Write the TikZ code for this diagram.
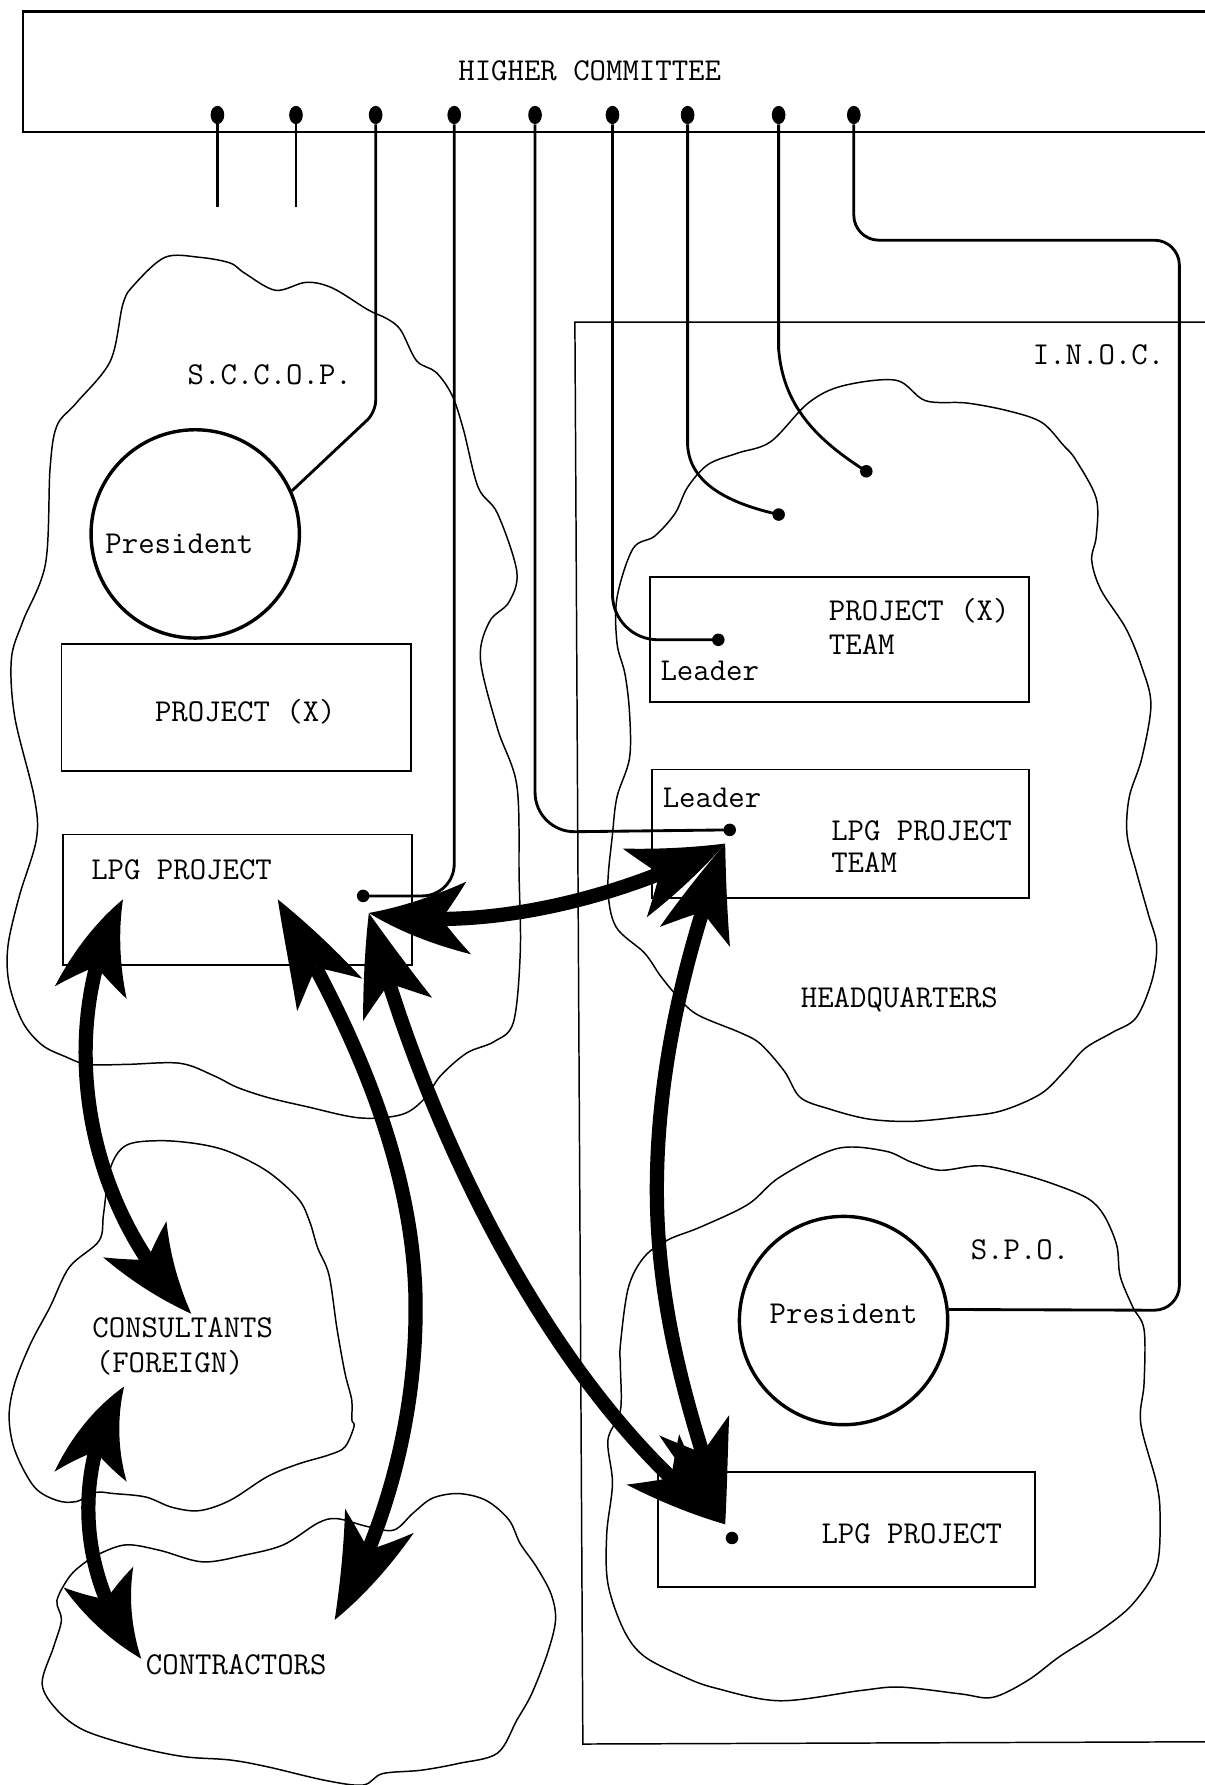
\documentclass[tikz,border=0pt]{standalone}
\usepackage{fontspec}
\usetikzlibrary{arrows.meta,bending,shapes.geometric}
\begin{document}
\begin{tikzpicture}[x=1pt,y=-1pt,
  txt/.style={font=\ttfamily\fontsize{28}{31}\selectfont, inner sep=0pt, anchor=base},
  txtl/.style={txt, anchor=base west},
  cloudline/.style={draw, line width=1.3pt, line join=round},
  conn/.style={line width=2.5pt},
  frame/.style={line width=1.3pt},
  boxst/.style={draw, line width=1.6pt, inner sep=0pt, rectangle},
  pres/.style={draw, circle, line width=3pt, inner sep=0pt, minimum size=183pt},
  dotst/.style={circle, fill, inner sep=0pt, minimum size=11pt},
  cdot/.style={ellipse, fill, inner sep=0pt, minimum width=12pt, minimum height=16pt},
  bigarrow/.style={line width=12.5pt,
    {Stealth[length=84pt,width=64pt,inset=22pt,line width=0pt,bend]}-{Stealth[length=84pt,width=64pt,inset=22pt,line width=0pt,bend]}}
]
\useasboundingbox (0,0) rectangle (1058,1568);
\fill[white] (0,0) rectangle (1058,1568);

% ---------- clouds ----------
% S.C.C.O.P.
\draw[cloudline] plot[smooth cycle, tension=0.55] coordinates {
 (145,226) (175,226) (202,231) (215,240) (242,255) (269,248) (292,253) (323,272)
 (340,280) (352,290) (366,317) (383,327) (397,347) (407,377) (420,428) (437,451)
 (454,502) (447,529) (430,546) (422,579) (437,640) (454,690) (456,770) (457,837)
 (451,898) (434,915) (410,925) (387,945) (373,965) (353,979) (316,982) (269,972)
 (235,964) (208,955) (188,945) (158,934) (111,935) (77,935) (57,928) (37,918)
 (20,898) (8,864) (7,831) (17,787) (32,737) (30,700) (13,630) (10,579) (20,546)
 (40,495) (44,411) (50,374) (67,354) (97,317) (108,267) (118,250)};
% consultants
\draw[cloudline] plot[smooth cycle, tension=0.55] coordinates {
 (111,1006) (141,1002) (175,1005) (202,1012) (235,1029) (262,1053) (272,1073)
 (279,1096) (289,1120) (296,1167) (303,1206) (309,1230) (309,1247) (311,1253)
 (303,1271) (289,1278) (262,1286) (235,1297) (202,1318) (175,1327) (151,1324)
 (128,1315) (100,1312) (84,1311) (67,1319) (50,1318) (30,1306) (13,1274) (8,1244)
 (13,1215) (27,1180) (44,1148) (61,1113) (87,1090) (91,1066) (97,1026)};
% contractors
\draw[cloudline] plot[smooth cycle, tension=0.55] coordinates {
 (74,1373) (87,1365) (111,1357) (141,1362) (178,1372) (215,1366) (249,1357)
 (279,1338) (296,1334) (323,1341) (346,1344) (363,1329) (380,1316) (403,1312)
 (427,1318) (447,1335) (457,1356) (471,1376) (484,1400) (488,1423) (481,1452)
 (467,1488) (454,1511) (437,1540) (403,1549) (370,1555) (336,1558) (319,1568)
 (286,1564) (235,1552) (202,1546) (161,1543) (118,1534) (74,1520) (50,1502)
 (37,1479) (47,1447) (54,1423) (50,1406) (61,1385)};
% headquarters
\draw[cloudline] plot[smooth cycle, tension=0.55] coordinates {
 (740,339) (787,334) (813,352) (849,354) (886,361) (915,371) (934,391) (945,404)
 (963,438) (963,471) (959,492) (967,518) (989,552) (1003,586) (1011,619) (1003,666)
 (992,700) (990,733) (998,765) (1009,804) (1016,830) (1012,861) (998,894) (977,907)
 (953,921) (935,941) (914,961) (879,976) (844,981) (801,985) (763,983) (728,974)
 (703,964) (689,941) (668,917) (650,907) (612,891) (594,874) (580,857) (566,837)
 (541,814) (534,780) (538,733) (542,700) (553,666) (553,626) (549,592) (542,565)
 (542,525) (556,482) (575,471) (593,451) (604,428) (622,408) (648,398) (677,388)
 (710,354)};
% S.P.O.
\draw[cloudline] plot[smooth cycle, tension=0.55] coordinates {
 (587,1089) (615,1078) (657,1058) (685,1034) (735,1009) (777,1011) (801,1021)
 (826,1028) (861,1024) (896,1031) (928,1041) (956,1053) (970,1068) (981,1094)
 (984,1121) (995,1148) (1005,1168) (1005,1215) (1002,1250) (1016,1303) (1019,1332)
 (1016,1376) (995,1409) (967,1432) (931,1455) (903,1476) (872,1491) (844,1488)
 (791,1482) (756,1485) (685,1494) (629,1483) (601,1473) (566,1455) (548,1432)
 (534,1391) (533,1347) (538,1303) (534,1265) (545,1239) (545,1201) (545,1181)
 (552,1131) (566,1104)};

% ---------- frames ----------
\draw[line width=2.2pt] (1070,10) -- (20,10) -- (20,116) -- (1070,116);
\draw[frame] (1070,283) -- (505,283) -- (512,1532) -- (1070,1530);

% ---------- boxes and circles ----------
\node[boxst, minimum width=307pt, minimum height=111pt] (projx) at (207.5,621.5) {};
\node[boxst, minimum width=307pt, minimum height=115pt] (lpgL) at (208.5,790.5) {};
\node[boxst, minimum width=333pt, minimum height=110pt] (teamX) at (737.5,562) {};
\node[boxst, minimum width=331pt, minimum height=113pt] (teamL) at (738.5,732.5) {};
\node[boxst, minimum width=331pt, minimum height=101pt] (lpgS) at (743.5,1343.5) {};
\node[pres] (pres1) at (171.5,469) {};
\node[pres] (pres2) at (741,1160) {};

% ---------- texts ----------
\node[txt] (thc) at (518,71) {HIGHER COMMITTEE};
\node[txt] (tsccop) at (237,338) {S.C.C.O.P.};
\node[txt] (tpres1) at (157.5,486) {President};
\node[txt] (tprojx) at (215.5,634) {PROJECT (X)};
\node[txt] (tlpgl) at (159.5,773) {LPG PROJECT};
\node[txt] (tinoc) at (965,320) {I.N.O.C.};
\node[txtl] (tteamx1) at (728,545) {PROJECT (X)};
\node[txtl] (tteamx2) at (728,575) {TEAM};
\node[txtl] (tlead1) at (580,598) {Leader};
\node[txtl] (tlead2) at (582,709) {Leader};
\node[txtl] (tteaml1) at (730,738) {LPG PROJECT};
\node[txtl] (tteaml2) at (730,766) {TEAM};
\node[txt] (thq) at (790,885) {HEADQUARTERS};
\node[txt] (tspo) at (896,1106) {S.P.O.};
\node[txt] (tpres2) at (741,1163) {President};
\node[txt] (tlpgs) at (801,1356) {LPG PROJECT};
\node[txtl] (tcons1) at (81,1175) {CONSULTANTS};
\node[txtl] (tcons2) at (84,1206) {(FOREIGN)};
\node[txtl] (tcontr) at (128,1471) {CONTRACTORS};

% ---------- connectors ----------
\node[cdot] (c1) at (191,101) {};
\node[cdot] (c2) at (260,101) {};
\node[cdot] (c3) at (330,101) {};
\node[cdot] (c4) at (399,101) {};
\node[cdot] (c5) at (470,101) {};
\node[cdot] (c6) at (538,101) {};
\node[cdot] (c7) at (604,101) {};
\node[cdot] (c8) at (684,101) {};
\node[cdot] (c9) at (750,101) {};
\coordinate (e1) at (191,182);
\coordinate (e2) at (260,182);
\node[dotst] (dL) at (319,787) {};
\node[dotst] (dX) at (631,562) {};
\node[dotst] (dT) at (641,729) {};
\node[dotst] (dA) at (684,452) {};
\node[dotst] (dB) at (761,414) {};
\node[dotst] (dS) at (643,1351) {};

\draw[conn] (c1) -- (e1);
\draw[conn] (c2) -- (e2);
\draw[conn, rounded corners=10pt] (c3) -- (330,362) -- (pres1.24);
\draw[conn, rounded corners=28pt] (c4) -- (399,787) -- (dL.center);
\draw[conn, rounded corners=35pt] (c5) -- (470,731) -- (dT.center);
\draw[conn, rounded corners=40pt] (c6) -- (538,562) -- (dX.center);
\draw[conn] (c7) -- (604,391) .. controls (606,425) and (640,442) .. (dA.center);
\draw[conn] (c8) -- (684,307) .. controls (688,355) and (715,385) .. (dB.center);
\draw[conn, rounded corners=22pt] (c9) -- (750,211) -- (1036,211) -- (1036,1151) -- (pres2.6);

% ---------- thick double arrows ----------
\coordinate (aL1) at (108,790);
\coordinate (aC1) at (168,1154);
\coordinate (aC2) at (109,1218);
\coordinate (aK1) at (124,1457);
\coordinate (aL2) at (244,790);
\coordinate (aK2) at (294,1423);
\coordinate (aL3) at (324,802);
\coordinate (aT) at (637,741);
\coordinate (aS) at (637,1339);

\draw[bigarrow] (aL1) .. controls (52,890) and (65,1050) .. (aC1);
\draw[bigarrow] (aC2) .. controls (64,1285) and (66,1385) .. (aK1);
\draw[bigarrow] (aL2) .. controls (290,870) and (362,1000) .. (365,1140) .. controls (367,1260) and (330,1360) .. (aK2);
\draw[bigarrow] (aL3) .. controls (420,820) and (545,790) .. (aT);
\draw[bigarrow] (aL3) .. controls (370,980) and (480,1220) .. (aS);
\draw[bigarrow] (aT) .. controls (605,830) and (578,930) .. (577,1040) .. controls (576,1160) and (612,1260) .. (aS);
\end{tikzpicture}
\end{document}
